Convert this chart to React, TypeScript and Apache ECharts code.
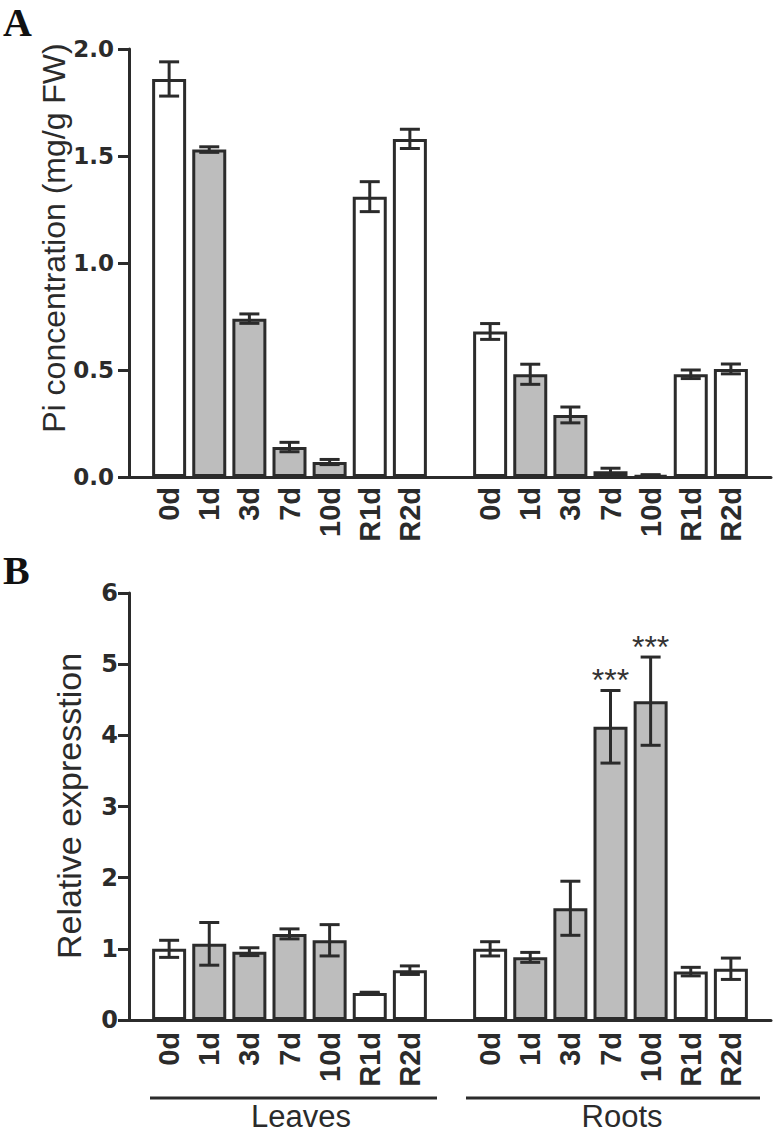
import React, { useEffect, useRef } from "react";
import * as echarts from "echarts";

const categories = ["0d", "1d", "3d", "7d", "10d", "R1d", "R2d"];
const shaded = [false, true, true, true, true, false, false];

const leafPi = [1.86, 1.53, 0.74, 0.14, 0.07, 1.31, 1.58];
const leafPiErr = [0.08, 0.013, 0.022, 0.022, 0.012, 0.07, 0.045];
const rootPi = [0.68, 0.48, 0.29, 0.027, 0.008, 0.48, 0.505];
const rootPiErr = [0.037, 0.047, 0.037, 0.014, 0.003, 0.02, 0.023];

const leafExpr = [1.0, 1.07, 0.96, 1.21, 1.12, 0.38, 0.7];
const leafExprErr = [0.12, 0.3, 0.055, 0.07, 0.22, 0.01, 0.06];
const rootExpr = [1.0, 0.88, 1.57, 4.12, 4.48, 0.68, 0.72];
const rootExprErr = [0.1, 0.07, 0.38, 0.51, 0.62, 0.06, 0.15];
const rootExprSig = ["", "", "", "***", "***", "", ""];

const groupNames = ["Leaves", "Roots"];
const piTicks = [0, 2, 0.5];
const exprTicks = [0, 6, 1];

const INK = "#2b2b2b";
const GRAY = "#bdbdbd";
const SANS = "'Liberation Sans', Arial, sans-serif";

// axis slots: blank, 7 leaves, blank, 7 roots, blank
const axisCats = ["", ...categories, "", ...categories, ""];
const leafIdx = categories.map((_, i) => i + 1);
const rootIdx = categories.map((_, i) => i + 9);

function barData(leaf: number[], root: number[]) {
  const out: any[] = axisCats.map(() => "-");
  categories.forEach((_, i) => {
    const col = shaded[i] ? GRAY : "#ffffff";
    out[leafIdx[i]] = { value: leaf[i], itemStyle: { color: col } };
    out[rootIdx[i]] = { value: root[i], itemStyle: { color: col } };
  });
  return out;
}

function errData(leaf: number[], leafErr: number[], root: number[], rootErr: number[]) {
  const out: number[][] = [];
  categories.forEach((_, i) => out.push([leafIdx[i], leaf[i], leafErr[i]]));
  categories.forEach((_, i) => out.push([rootIdx[i], root[i], rootErr[i]]));
  return out;
}

function makeErrRender(sigs: string[]) {
  return (params: any, api: any) => {
    const x = api.value(0);
    const v = api.value(1);
    const e = api.value(2);
    const top = api.coord([x, v + e]);
    const bot = api.coord([x, v - e]);
    const half = 10;
    const ls = { stroke: INK, lineWidth: 3 };
    const children: any[] = [
      { type: "line", shape: { x1: top[0], y1: top[1], x2: bot[0], y2: bot[1] }, style: ls },
      { type: "line", shape: { x1: top[0] - half, y1: top[1], x2: top[0] + half, y2: top[1] }, style: ls },
      { type: "line", shape: { x1: bot[0] - half, y1: bot[1], x2: bot[0] + half, y2: bot[1] }, style: ls },
    ];
    const sig = sigs[params.dataIndex];
    if (sig) {
      children.push({
        type: "text",
        x: top[0],
        y: top[1] - 10,
        style: {
          text: sig,
          fill: "#333333",
          font: `32px ${SANS}`,
          textAlign: "center",
          textVerticalAlign: "middle",
        },
      });
    }
    return { type: "group", children };
  };
}

export default function App() {
  const ref = useRef<HTMLDivElement>(null);
  useEffect(() => {
    if (!ref.current) return;
    const chart = echarts.init(ref.current, undefined, { renderer: "svg" });
    const grids = [
      { left: 129, top: 49, width: 642, height: 428 },
      { left: 129, top: 593, width: 642, height: 427 },
    ];
    const xAxis = [0, 1].map((g) => ({
      gridIndex: g,
      type: "category",
      data: axisCats,
      boundaryGap: false,
      axisLine: { show: true, lineStyle: { color: INK, width: 3 } },
      axisTick: { show: false },
      splitLine: { show: false },
      axisLabel: {
        interval: 0,
        rotate: 90,
        margin: g ? 12 : 10,
        fontSize: 29,
        fontWeight: "bold",
        fontFamily: SANS,
        color: INK,
      },
    }));
    const yAxis = [
      {
        gridIndex: 0,
        type: "value",
        min: piTicks[0],
        max: piTicks[1],
        interval: piTicks[2],
        axisLine: { show: true, lineStyle: { color: INK, width: 3 } },
        axisTick: { show: true, length: 11, lineStyle: { color: INK, width: 3 } },
        splitLine: { show: false },
        axisLabel: {
          margin: 15,
          formatter: (v: number) => v.toFixed(1),
          fontSize: 23,
          fontWeight: "bold",
          fontFamily: "'DejaVu Sans', sans-serif",
          color: INK,
        },
      },
      {
        gridIndex: 1,
        type: "value",
        min: exprTicks[0],
        max: exprTicks[1],
        interval: exprTicks[2],
        axisLine: { show: true, lineStyle: { color: INK, width: 3 } },
        axisTick: { show: true, length: 11, lineStyle: { color: INK, width: 3 } },
        splitLine: { show: false },
        axisLabel: {
          margin: 11,
          fontSize: 24,
          fontWeight: "bold",
          fontFamily: "'DejaVu Sans', sans-serif",
          color: INK,
        },
      },
    ];
    const barStyle = { borderColor: INK, borderWidth: 3 };
    const series: any[] = [
      {
        type: "bar",
        xAxisIndex: 0,
        yAxisIndex: 0,
        barWidth: 34,
        itemStyle: barStyle,
        data: barData(leafPi, rootPi),
        z: 2,
      },
      {
        type: "custom",
        xAxisIndex: 0,
        yAxisIndex: 0,
        renderItem: makeErrRender([]),
        data: errData(leafPi, leafPiErr, rootPi, rootPiErr),
        z: 3,
      },
      {
        type: "bar",
        xAxisIndex: 1,
        yAxisIndex: 1,
        barWidth: 34,
        itemStyle: barStyle,
        data: barData(leafExpr, rootExpr),
        z: 2,
      },
      {
        type: "custom",
        xAxisIndex: 1,
        yAxisIndex: 1,
        renderItem: makeErrRender(["", "", "", "", "", "", "", ...rootExprSig]),
        data: errData(leafExpr, leafExprErr, rootExpr, rootExprErr),
        z: 3,
      },
    ];
    const graphic: any[] = [
      { type: "text", left: 3, top: 2, style: { text: "A", font: "bold 40px 'Liberation Serif', serif", fill: "#111" } },
      { type: "text", left: 3, top: 550, style: { text: "B", font: "bold 40px 'Liberation Serif', serif", fill: "#111" } },
      {
        type: "text",
        x: 54,
        y: 238,
        rotation: Math.PI / 2,
        style: {
          text: "Pi concentration (mg/g FW)",
          font: `32px ${SANS}`,
          fill: INK,
          textAlign: "center",
          textVerticalAlign: "middle",
        },
      },
      {
        type: "text",
        x: 69,
        y: 806,
        rotation: Math.PI / 2,
        style: {
          text: "Relative expresstion",
          font: `34px ${SANS}`,
          fill: INK,
          textAlign: "center",
          textVerticalAlign: "middle",
        },
      },
      { type: "line", shape: { x1: 150, y1: 1098, x2: 437, y2: 1098 }, style: { stroke: INK, lineWidth: 3 } },
      { type: "line", shape: { x1: 466, y1: 1098, x2: 760, y2: 1098 }, style: { stroke: INK, lineWidth: 3 } },
      {
        type: "text",
        x: 301,
        y: 1116,
        style: { text: groupNames[0], font: `31px ${SANS}`, fill: INK, textAlign: "center", textVerticalAlign: "middle" },
      },
      {
        type: "text",
        x: 622,
        y: 1116,
        style: { text: groupNames[1], font: `31px ${SANS}`, fill: INK, textAlign: "center", textVerticalAlign: "middle" },
      },
    ];
    chart.setOption({
      animation: false,
      backgroundColor: "#ffffff",
      grid: grids,
      xAxis,
      yAxis,
      series,
      graphic,
    });
    return () => chart.dispose();
  }, []);
  return (
    <div
      ref={ref}
      style={{ position: "absolute", left: 0, top: 0, width: 780, height: 1135 }}
    />
  );
}
